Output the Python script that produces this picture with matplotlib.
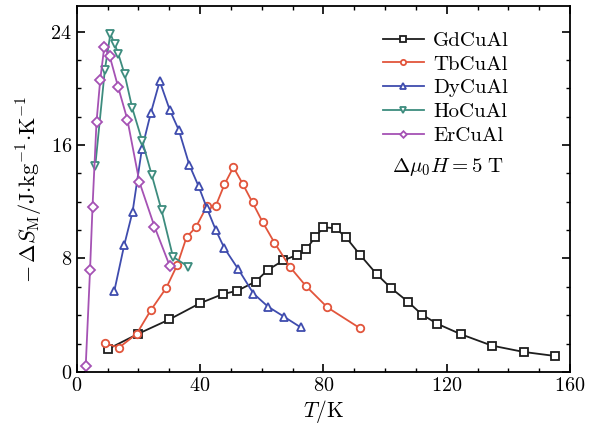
import matplotlib
matplotlib.use("Agg")
import matplotlib.pyplot as plt

plt.rcParams['font.family'] = 'serif'
plt.rcParams['font.serif'] = ['cmr10', 'DejaVu Serif']
plt.rcParams['mathtext.fontset'] = 'cm'
plt.rcParams['axes.formatter.use_mathtext'] = True

# Magnetic entropy change of RCuAl compounds, field change 5 T
gd_T = [10, 20, 30, 40, 47.5, 52, 58, 62, 67, 71.5, 74.5, 77.3, 80, 84, 87.3, 92,
        97.3, 102, 107.4, 112, 117, 124.6, 134.6, 145, 155]
gd_S = [1.6, 2.7, 3.7, 4.85, 5.5, 5.72, 6.37, 7.2, 7.86, 8.26, 8.67, 9.5, 10.2, 10.13,
        9.5, 8.23, 6.89, 5.9, 4.96, 4.04, 3.39, 2.66, 1.86, 1.41, 1.13]

tb_T = [9.1, 13.7, 19.4, 24, 29, 32.6, 35.6, 38.6, 42.2, 45.1, 47.9, 50.8, 53.8, 57,
        60.3, 64.1, 69.2, 74.4, 81.3, 91.9]
tb_S = [2.02, 1.72, 2.68, 4.35, 5.92, 7.55, 9.5, 10.2, 11.68, 11.72, 13.22, 14.44,
        13.27, 11.95, 10.56, 9.12, 7.39, 6.04, 4.55, 3.08]

dy_T = [12.2, 15.4, 18.1, 21.1, 24, 26.9, 30.2, 33.1, 36.5, 39.5, 42.2, 45.1, 47.9,
        52.4, 57.3, 62, 67.2, 72.6]
dy_S = [5.74, 8.96, 11.3, 15.7, 18.25, 20.5, 18.45, 17.05, 14.6, 13.1, 11.55, 10.0,
        8.72, 7.24, 5.53, 4.61, 3.9, 3.15]

ho_T = [6, 9.1, 10.9, 12.3, 13.5, 15.5, 18, 21.2, 24.3, 27.5, 31.2, 36.1]
ho_S = [14.55, 21.3, 23.85, 23.1, 22.4, 21.0, 18.6, 16.3, 13.9, 11.4, 8.12, 7.43]

er_T = [2.9, 4.3, 5.1, 6.4, 7.6, 8.9, 10.7, 13.4, 16.4, 20.3, 25.2, 30.2]
er_S = [0.45, 7.2, 11.65, 17.65, 20.6, 22.9, 22.25, 20.1, 17.8, 13.4, 10.25, 7.45]

series = [
    ("GdCuAl", gd_T, gd_S, "s", "#1e1e1e"),
    ("TbCuAl", tb_T, tb_S, "o", "#e2553c"),
    ("DyCuAl", dy_T, dy_S, "^", "#3f4cae"),
    ("HoCuAl", ho_T, ho_S, "v", "#3d8c7e"),
    ("ErCuAl", er_T, er_S, "D", "#a552b4"),
]

fig = plt.figure(figsize=(6.0, 4.32), dpi=100)
ax = fig.add_axes([0.128, 0.139, 0.822, 0.847])

for name, T, S, mk, col in series:
    ms = 4.8 if mk == "D" else 5.4
    ax.plot(T, S, marker=mk, color=col, markerfacecolor="white",
            markeredgecolor=col, markersize=ms, markeredgewidth=1.3,
            linewidth=1.3, label=name)

ax.set_xlim(0, 160)
ax.set_ylim(0, 25.8)
ax.set_xticks([0, 40, 80, 120, 160])
ax.set_xticks(range(0, 161, 10), minor=True)
ax.set_yticks([0, 8, 16, 24])
ax.set_yticks(range(0, 26, 2), minor=True)
ax.tick_params(which="both", direction="in", top=True, right=True, labelsize=14.5)
ax.tick_params(which="major", length=5.5, width=1.2)
ax.tick_params(which="minor", length=3, width=1.0)
for sp in ax.spines.values():
    sp.set_linewidth(1.3)

ax.set_xlabel(r"$T/\mathrm{K}$", fontsize=15.5, labelpad=2)
ax.set_ylabel(r"$-\,\Delta S_{\mathrm{M}}/\mathrm{J}{\cdot}\mathrm{kg}^{-1}{\cdot}\mathrm{K}^{-1}$",
              fontsize=16, labelpad=4)

leg = ax.legend(loc="upper left", bbox_to_anchor=(0.621, 0.931), frameon=False,
                fontsize=15, handlelength=1.95, handletextpad=0.45, labelspacing=0.25,
                borderpad=0, borderaxespad=0, markerscale=0.7)
ax.text(0.753, 0.561, r"$\Delta\mu_0 H = 5\ \mathrm{T}$", transform=ax.transAxes,
        ha="center", va="center", fontsize=15)

fig.savefig("out.png", dpi=100)
